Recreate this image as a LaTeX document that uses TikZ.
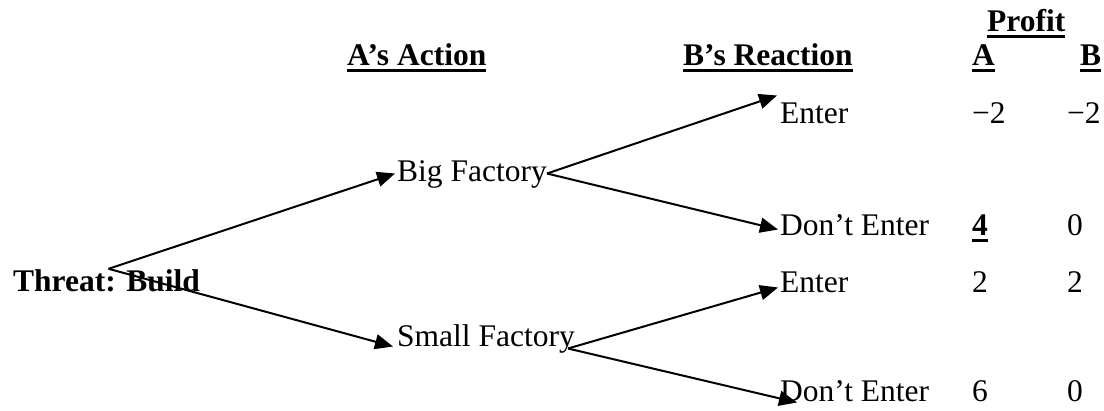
\documentclass[tikz,border=0pt]{standalone}
\usepackage{fontspec}
\setmainfont{Liberation Serif}
\usepackage{tikz}
\usetikzlibrary{arrows.meta, positioning}
\tikzstyle{branch} = [draw, -{Triangle[length=18pt,width=15pt]}, line width=2pt]
\tikzstyle{lbl} = [inner sep=0pt, anchor=base west, text height=22pt, text depth=7pt]
\newcommand{\hdrline}[1]{\setbox0=\hbox{#1}\rlap{\copy0}\rule[-6.5pt]{\wd0}{3pt}}

\begin{document}
\begin{tikzpicture}[x=1pt, y=-1pt, font=\fontsize{31.5}{36}\selectfont]
\useasboundingbox (0,0) rectangle (1104,410);

% headers
\node [lbl] (hact) at (347,65) {\hdrline{\textbf{A’s Action}}};
\node [lbl] (hreac) at (683,65) {\hdrline{\textbf{B’s Reaction}}};
\node [lbl] (hprof) at (987,31) {\hdrline{\textbf{Profit}}};
\node [lbl] (ha) at (972,65) {\hdrline{\textbf{A}}};
\node [lbl] (hb) at (1080,65) {\hdrline{\textbf{B}}};

% tree
\node [lbl] (threat) at (13,291) {\textbf{Threat: Build}};
\node [lbl] (bigf) at (397,181) {Big Factory};
\node [lbl] (smallf) at (397,346) {Small Factory};
\node [lbl] (enterA) at (780,123) {Enter};
\node [lbl] (dontA) at (780,235) {Don’t Enter};
\node [lbl] (enterB) at (780,292) {Enter};
\node [lbl] (dontB) at (780,401) {Don’t Enter};

% payoffs
\foreach \nm/\y/\pa/\pb in {eA/123/{−2}/{−2}, dA/235/{\hdrline{\textbf{4}}}/0, eB/292/2/2, dB/401/6/0}{
  \node [lbl] (pa-\nm) at (972,\y) {\pa};
  \node [lbl] (pb-\nm) at (1067,\y) {\pb};
}

\draw[branch] ([xshift=2pt]threat.north) -- ([xshift=-2pt]bigf.west);
\draw[branch] ([xshift=2pt]threat.north) -- ([shift={(-4pt,-8pt)}]smallf.west);
\draw[branch] (bigf.east) -- ([shift={(-3pt,20pt)}]enterA.west);
\draw[branch] (bigf.east) -- ([shift={(-2pt,-2pt)}]dontA.west);
\draw[branch] ([shift={(-7pt,-10pt)}]smallf.east) -- ([shift={(-2pt,-3pt)}]enterB.west);
\draw[branch] ([shift={(-7pt,-10pt)}]smallf.east) -- ([shift={(17pt,-9pt)}]dontB.west);

\end{tikzpicture}
\end{document}
